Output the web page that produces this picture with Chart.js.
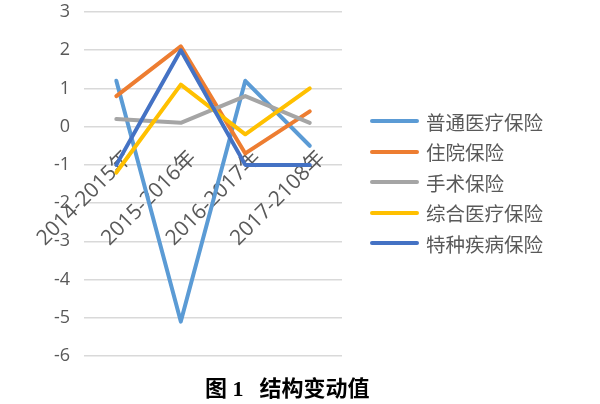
<!DOCTYPE html>
<html>
<head>
<meta charset="utf-8">
<script src="https://cdn.jsdelivr.net/npm/chart.js@4.4.1/dist/chart.umd.min.js"></script>
<style>
  html, body { margin: 0; padding: 0; background: #fff; }
  #wrap { position: relative; width: 600px; height: 404px; }
  #chart { position: absolute; left: 0; top: 0; }
  #legend {
    position: absolute; left: 370px; top: 106px;
    font-family: "Noto Sans CJK SC", sans-serif; font-size: 19.5px; color: #595959;
  }
  .item { height: 30.5px; display: flex; align-items: center; white-space: nowrap; }
  .swatch { width: 49px; height: 4px; border-radius: 2px; margin-right: 7px; }
  #caption {
    position: absolute; left: 205px; top: 376px;
    font-family: "Liberation Serif", "Noto Sans CJK SC", serif;
    font-weight: bold; font-size: 22px; color: #000;
    white-space: pre; line-height: 26px;
  }
  #caption .cn { margin-left: 16px; }
</style>
</head>
<body>
<div id="wrap">
  <canvas id="chart" width="600" height="404"></canvas>
  <div id="legend"></div>
  <div id="caption">图 1<span class="cn">结构变动值</span></div>
</div>
<script>
// Periods on the category axis
const periods = ['2014-2015年', '2015-2016年', '2016-2017年', '2017-2108年'];

// Structural change values per insurance type
const putongYiliao = [1.2, -5.1, 1.2, -0.5];   // 普通医疗保险
const zhuyuan      = [0.8, 2.1, -0.7, 0.4];    // 住院保险
const shoushu      = [0.2, 0.1, 0.8, 0.1];     // 手术保险
const zongheYiliao = [-1.2, 1.1, -0.2, 1.0];   // 综合医疗保险
const tezhongJibing = [-1.0, 2.0, -1.0, -1.0]; // 特种疾病保险

// Value axis range and step
const yMin = -6;
const yMax = 3;
const yStep = 1;

const seriesNames = ['普通医疗保险', '住院保险', '手术保险', '综合医疗保险', '特种疾病保险'];
const seriesValues = [putongYiliao, zhuyuan, shoushu, zongheYiliao, tezhongJibing];
const seriesColors = ['#5B9BD5', '#ED7D31', '#A5A5A5', '#FFC000', '#4472C4'];

const textColor = '#595959';
const fontFamily = '"Open Sans", "Noto Sans CJK SC", sans-serif';

const datasets = seriesNames.map((name, i) => ({
  label: name,
  data: seriesValues[i],
  borderColor: seriesColors[i],
  backgroundColor: seriesColors[i],
  borderWidth: 4,
  pointRadius: 0,
  pointHoverRadius: 0,
  tension: 0,
  borderCapStyle: 'round',
  borderJoinStyle: 'round',
  // later series are painted over earlier ones
  order: seriesNames.length - i
}));

// Legend on the right: one swatch and name per series
const legendBox = document.getElementById('legend');
seriesNames.forEach((name, i) => {
  const row = document.createElement('div');
  row.className = 'item';
  const sw = document.createElement('span');
  sw.className = 'swatch';
  sw.style.background = seriesColors[i];
  const tx = document.createElement('span');
  tx.textContent = name;
  row.appendChild(sw);
  row.appendChild(tx);
  legendBox.appendChild(row);
});

new Chart(document.getElementById('chart'), {
  type: 'line',
  data: { labels: periods, datasets },
  options: {
    responsive: false,
    animation: false,
    layout: { padding: { left: 40, right: 258, top: 12, bottom: 48 } },
    plugins: {
      tooltip: { enabled: false },
      legend: { display: false }
    },
    scales: {
      x: {
        position: { y: 0 },
        offset: true,
        grid: { display: false },
        border: { display: false },
        ticks: {
          color: textColor,
          font: { family: fontFamily, size: 21 },
          minRotation: 45,
          maxRotation: 45,
          autoSkip: false,
          padding: 11,
          labelOffset: 12
        }
      },
      y: {
        min: yMin,
        max: yMax,
        grid: { color: '#D9D9D9', lineWidth: 1.5, drawTicks: false },
        border: { display: false },
        ticks: {
          stepSize: yStep,
          color: textColor,
          font: { family: fontFamily, size: 18 },
          padding: 14
        },
        // let the plot run to the padding edge; the end labels may overhang
        afterFit: (scale) => { scale.paddingTop = 0; scale.paddingBottom = 0; }
      }
    }
  }
});
</script>
</body>
</html>
